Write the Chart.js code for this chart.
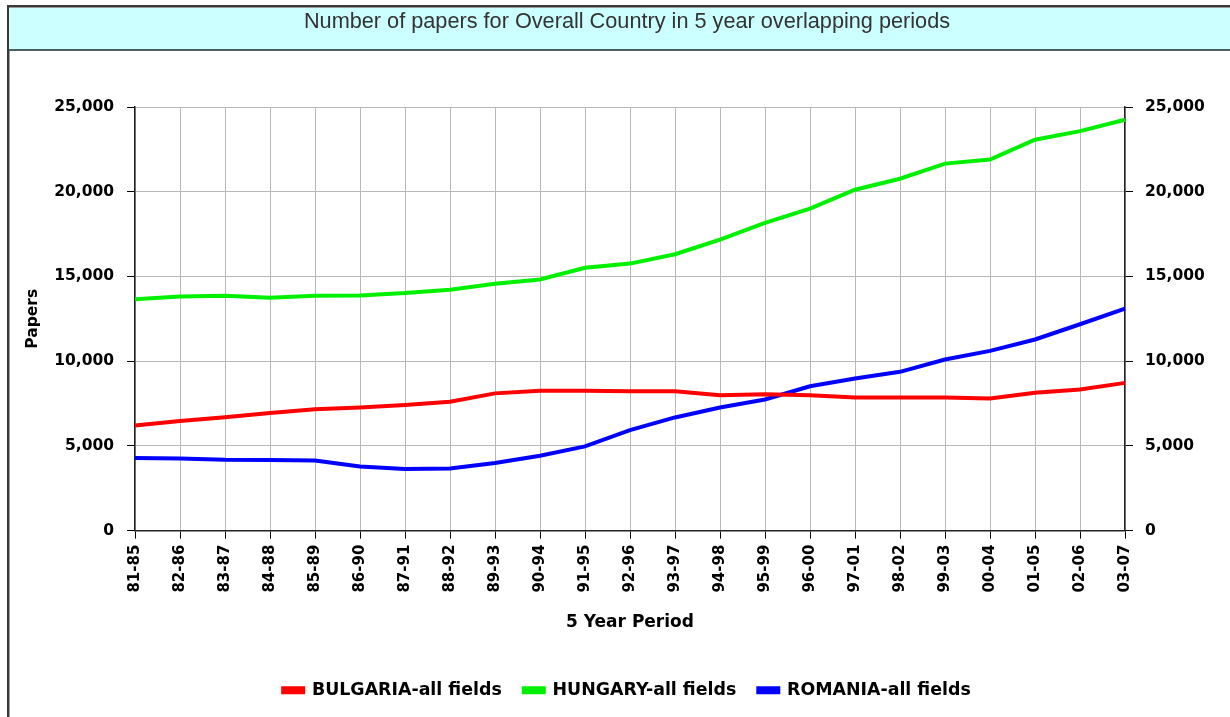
<!DOCTYPE html>
<html>
<head>
<meta charset="utf-8">
<script src="https://cdn.jsdelivr.net/npm/chart.js@4"></script>
<style>
  html, body { margin: 0; padding: 0; background: #ffffff; }
  #wrap { position: relative; width: 1230px; height: 717px; }
  canvas { display: block; }
</style>
</head>
<body>
<div id="wrap"><canvas id="c" width="1230" height="717"></canvas></div>
<script>
// ---- data ----
const periods = ["81-85","82-86","83-87","84-88","85-89","86-90","87-91","88-92","89-93","90-94","91-95","92-96","93-97","94-98","95-99","96-00","97-01","98-02","99-03","00-04","01-05","02-06","03-07"];
const bulgaria = [6200,6470,6690,6940,7160,7260,7410,7610,8100,8260,8260,8230,8230,7990,8050,7990,7860,7860,7860,7800,8130,8330,8720];
const hungary  = [13650,13820,13860,13750,13860,13880,14020,14220,14570,14820,15510,15760,16310,17180,18160,19000,20120,20770,21660,21900,23070,23580,24250];
const romania  = [4280,4260,4180,4160,4140,3790,3630,3670,3990,4420,4970,5930,6680,7270,7740,8520,8980,9370,10100,10610,11280,12180,13100];
const seriesNames = ["BULGARIA-all fields","HUNGARY-all fields","ROMANIA-all fields"];
const yTicks = [0,5000,10000,15000,20000,25000];
const chartTitle = "Number of papers for Overall Country in 5 year overlapping periods";
const xTitle = "5 Year Period";
const yTitle = "Papers";

const FONT = "'DejaVu Sans', Verdana, sans-serif";

const framePlugin = {
  id: 'frame',
  beforeDraw(chart) {
    const ctx = chart.ctx;
    ctx.save();
    ctx.fillStyle = '#ffffff';
    ctx.fillRect(0, 0, chart.width, chart.height);
    ctx.fillStyle = '#ccffff';
    ctx.fillRect(7, 7, chart.width - 7, 42);
    ctx.fillStyle = '#3a3a3a';
    ctx.fillRect(7, 5, chart.width - 7, 2);
    ctx.fillStyle = '#9a9a9a';
    ctx.fillRect(7, 7, chart.width - 7, 1);
    ctx.fillStyle = '#4b5f5f';
    ctx.fillRect(7, 49, chart.width - 7, 2);
    ctx.fillStyle = '#3a3a3a';
    ctx.fillRect(7, 5, 2, chart.height - 5);
    ctx.fillStyle = '#a0a0a0';
    ctx.fillRect(9, 51, 1, chart.height - 51);
    ctx.restore();
  }
};

const fmt = v => Number(v).toLocaleString('en-US');

const ds = (label, data, color) => ({
  label, data,
  borderColor: color, backgroundColor: color,
  borderWidth: 4, pointRadius: 0, pointHoverRadius: 0,
  tension: 0, fill: false, yAxisID: 'y'
});

new Chart(document.getElementById('c'), {
  type: 'line',
  data: {
    labels: periods,
    datasets: [
      ds(seriesNames[0], bulgaria, '#ff0000'),
      ds(seriesNames[1], hungary, '#00f000'),
      ds(seriesNames[2], romania, '#0000ff')
    ]
  },
  options: {
    responsive: false,
    animation: false,
    devicePixelRatio: 1,
    layout: { padding: { left: 24, right: 0, top: 0, bottom: 8 } },
    plugins: {
      title: {
        display: true, text: chartTitle, color: '#333333',
        font: { family: "'Liberation Sans', Arial, sans-serif", size: 21.7, weight: 'normal', lineHeight: 1.2 },
        padding: { top: 9, bottom: 72 }
      },
      legend: {
        display: true, position: 'bottom',
        labels: {
          boxWidth: 20, boxHeight: 4, padding: 22,
          color: '#000000',
          font: { family: FONT, size: 17.4, weight: 'bold' }
        }
      },
      tooltip: { enabled: false }
    },
    scales: {
      x: {
        type: 'category', offset: false,
        grid: { color: '#b8b8b8', lineWidth: 1, tickLength: 8, tickColor: '#000000', drawTicks: true },
        border: { display: true, color: '#222222', width: 1.5 },
        ticks: { minRotation: 90, maxRotation: 90, autoSkip: false, color: '#000000', padding: 6,
                 font: { family: FONT, size: 15, weight: 'bold' } },
        title: { display: true, text: xTitle, color: '#000000', padding: { top: 8, bottom: 27 },
                 font: { family: FONT, size: 17, weight: 'bold' } },
        afterFit(scale) { scale.height = 129; }
      },
      y: {
        position: 'left', min: 0, max: 25000,
        afterBuildTicks(scale) { scale.ticks = yTicks.map(v => ({ value: v })); },
        grid: { color: '#b8b8b8', lineWidth: 1, tickLength: 8, tickColor: '#000000' },
        border: { display: true, color: '#222222', width: 1.5 },
        ticks: { color: '#000000', padding: 13, callback: v => fmt(v),
                 font: { family: FONT, size: 15.5, weight: 'bold' } },
        title: { display: true, text: yTitle, color: '#000000', padding: { top: 0, bottom: 0 },
                 font: { family: FONT, size: 15.5, weight: 'bold' } },
        afterFit(scale) { scale.width = 111; }
      },
      y2: {
        position: 'right', min: 0, max: 25000,
        afterBuildTicks(scale) { scale.ticks = yTicks.map(v => ({ value: v })); },
        grid: { drawOnChartArea: false, tickLength: 8, tickColor: '#000000' },
        border: { display: true, color: '#222222', width: 1.5 },
        ticks: { color: '#000000', padding: 12, callback: v => fmt(v),
                 font: { family: FONT, size: 15.5, weight: 'bold' } },
        afterFit(scale) { scale.width = 105; }
      }
    }
  },
  plugins: [framePlugin]
});
</script>
</body>
</html>
